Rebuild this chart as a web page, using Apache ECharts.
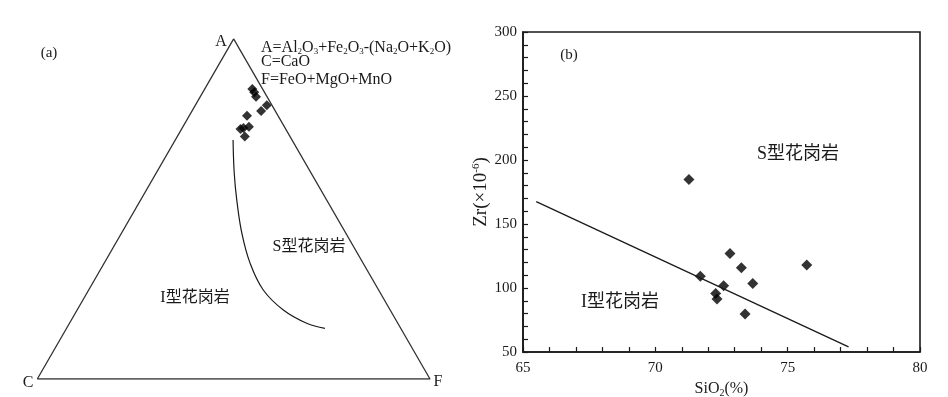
<!DOCTYPE html>
<html>
<head>
<meta charset="utf-8">
<script src="https://cdn.jsdelivr.net/npm/echarts@6/dist/echarts.min.js"></script>
<style>
  html, body { margin: 0; padding: 0; background: #fff; }
  #chart { width: 948px; height: 397px; }
</style>
</head>
<body>
<div id="chart"></div>
<script>
// (a) ACF ternary: sample points, percent
const triA = [85.3, 84.3, 83.0, 80.5, 78.8, 77.4, 74.2, 73.8, 73.5, 71.3]
const triC = [2.6, 2.6, 2.8, 1.3, 3.6, 7.9, 9.0, 10.6, 11.5, 11.5]
const triF = [12.1, 13.1, 14.2, 18.2, 17.6, 14.7, 16.8, 15.6, 15.0, 17.2]
// I/S boundary curve
const boundA = [70.3, 60.5, 52.6, 42.8, 34.0, 26.2, 20.3, 16.4, 14.9]
const boundC = [15.0, 19.6, 22.9, 26.5, 28.8, 29.4, 27.2, 23.2, 19.3]
const boundF = [14.7, 19.9, 24.5, 30.7, 37.2, 44.5, 52.5, 60.4, 65.8]
// triangle corners C, A, F, C
const cornerA = [0, 100, 0, 0]
const cornerC = [100, 0, 0, 100]
const cornerF = [0, 0, 100, 0]

// (b) SiO2 - Zr
const sio2 = [71.27, 71.70, 72.82, 73.25, 72.58, 72.28, 72.33, 73.68, 73.39, 75.72]
const zr = [184.8, 109.1, 127.0, 115.9, 101.8, 95.8, 91.4, 103.6, 79.7, 118.0]
const divSiO2 = [65.5, 77.3]
const divZr = [167.5, 54]

const H = Math.sqrt(3) / 2
function toXY(a, c, f) {
  const s = a + c + f
  return [(f + a / 2) / s, a * H / s]
}
function ternary(A, C, F) {
  return A.map((a, i) => toXY(a, C[i], F[i]))
}

const serif = '"Liberation Serif", "Noto Sans CJK SC", serif'
const black = '#1a1a1a'

const chart = echarts.init(document.getElementById('chart'))
const option = {
  animation: false,
  backgroundColor: '#fff',
  textStyle: { fontFamily: serif, color: black },
  grid: [
    { left: 37.3, top: 379 - 392.7 * H, width: 392.7, height: 392.7 * H, outerBoundsMode: 'none' },
    { left: 523, top: 32, width: 397, height: 320, outerBoundsMode: 'none',
      show: true, borderColor: black, borderWidth: 1.6, backgroundColor: 'transparent' }
  ],
  xAxis: [
    { gridIndex: 0, type: 'value', min: 0, max: 1, show: false },
    {
      gridIndex: 1, type: 'value', min: 65, max: 80, interval: 5,
      name: 'SiO{sub|2}(%)', nameLocation: 'middle', nameGap: 20,
      nameTextStyle: { fontFamily: serif, fontSize: 16, color: black,
        rich: { sub: { fontSize: 10, verticalAlign: 'bottom', padding: [8, 0, 0, 0] } } },
      axisLine: { lineStyle: { color: black, width: 1.6 } },
      axisTick: { inside: true, length: 5, lineStyle: { color: black, width: 1.2 } },
      minorTick: { show: true, splitNumber: 5, length: 5, lineStyle: { color: black, width: 1.2 } },
      axisLabel: { fontFamily: serif, fontSize: 15, color: black, margin: 9 },
      splitLine: { show: false }
    }
  ],
  yAxis: [
    { gridIndex: 0, type: 'value', min: 0, max: H, show: false },
    {
      gridIndex: 1, type: 'value', min: 50, max: 300, interval: 50,
      name: 'Zr(×10{sup|-6})', nameLocation: 'middle', nameGap: 27,
      nameTextStyle: { fontFamily: serif, fontSize: 19, color: black,
        rich: { sup: { fontSize: 11, verticalAlign: 'top', padding: [0, 0, 10, 0] } } },
      axisLine: { lineStyle: { color: black, width: 1.6 } },
      axisTick: { inside: true, length: 5, lineStyle: { color: black, width: 1.2 } },
      minorTick: { show: true, splitNumber: 5, length: 5, lineStyle: { color: black, width: 1.2 } },
      axisLabel: { fontFamily: serif, fontSize: 15, color: black, margin: 6 },
      splitLine: { show: false }
    }
  ],
  series: [
    {
      type: 'line', xAxisIndex: 0, yAxisIndex: 0,
      data: ternary(cornerA, cornerC, cornerF),
      symbol: 'none', lineStyle: { color: '#333', width: 1.3 }, silent: true
    },
    {
      type: 'line', xAxisIndex: 0, yAxisIndex: 0, smooth: 0.4,
      data: ternary(boundA, boundC, boundF),
      symbol: 'none', lineStyle: { color: black, width: 1.2 }, silent: true
    },
    {
      type: 'scatter', xAxisIndex: 0, yAxisIndex: 0,
      data: ternary(triA, triC, triF),
      symbol: 'diamond', symbolSize: 10, itemStyle: { color: '#000' }
    },
    {
      type: 'line', xAxisIndex: 1, yAxisIndex: 1,
      data: divSiO2.map((x, i) => [x, divZr[i]]),
      symbol: 'none', lineStyle: { color: black, width: 1.3 }, silent: true
    },
    {
      type: 'scatter', xAxisIndex: 1, yAxisIndex: 1,
      data: sio2.map((x, i) => [x, zr[i]]),
      symbol: 'diamond', symbolSize: 11, itemStyle: { color: '#000' }
    }
  ],
  graphic: [
    { type: 'text', x: 49, y: 53, style: { text: '(a)', font: '15px ' + serif, fill: black, align: 'center', verticalAlign: 'middle' } },
    { type: 'text', x: 221, y: 42, style: { text: 'A', font: '16px ' + serif, fill: black, align: 'center', verticalAlign: 'middle' } },
    { type: 'text', x: 28, y: 383, style: { text: 'C', font: '16px ' + serif, fill: black, align: 'center', verticalAlign: 'middle' } },
    { type: 'text', x: 438, y: 382, style: { text: 'F', font: '16px ' + serif, fill: black, align: 'center', verticalAlign: 'middle' } },
    {
      type: 'text', x: 261, y: 48,
      style: {
        text: 'A=Al{s|2}O{s|3}+Fe{s|2}O{s|3}-(Na{s|2}O+K{s|2}O)',
        font: '16px ' + serif, fill: black, verticalAlign: 'middle',
        rich: { s: { fontSize: 9, fontFamily: serif, fill: black, verticalAlign: 'bottom', padding: [7, 0, 0, 0] } }
      }
    },
    { type: 'text', x: 261, y: 62, style: { text: 'C=CaO', font: '16px ' + serif, fill: black, verticalAlign: 'middle' } },
    { type: 'text', x: 261, y: 80, style: { text: 'F=FeO+MgO+MnO', font: '16px ' + serif, fill: black, verticalAlign: 'middle' } },
    { type: 'text', x: 195, y: 298, style: { text: 'I型花岗岩', font: '16px ' + serif, fill: black, align: 'center', verticalAlign: 'middle' } },
    { type: 'text', x: 309, y: 247, style: { text: 'S型花岗岩', font: '16px ' + serif, fill: black, align: 'center', verticalAlign: 'middle' } },
    { type: 'text', x: 569, y: 55, style: { text: '(b)', font: '15px ' + serif, fill: black, align: 'center', verticalAlign: 'middle' } },
    { type: 'text', x: 798, y: 154, style: { text: 'S型花岗岩', font: '18px ' + serif, fill: black, align: 'center', verticalAlign: 'middle' } },
    { type: 'text', x: 620, y: 302, style: { text: 'I型花岗岩', font: '18px ' + serif, fill: black, align: 'center', verticalAlign: 'middle' } }
  ]
}
chart.setOption(option)
</script>
</body>
</html>
